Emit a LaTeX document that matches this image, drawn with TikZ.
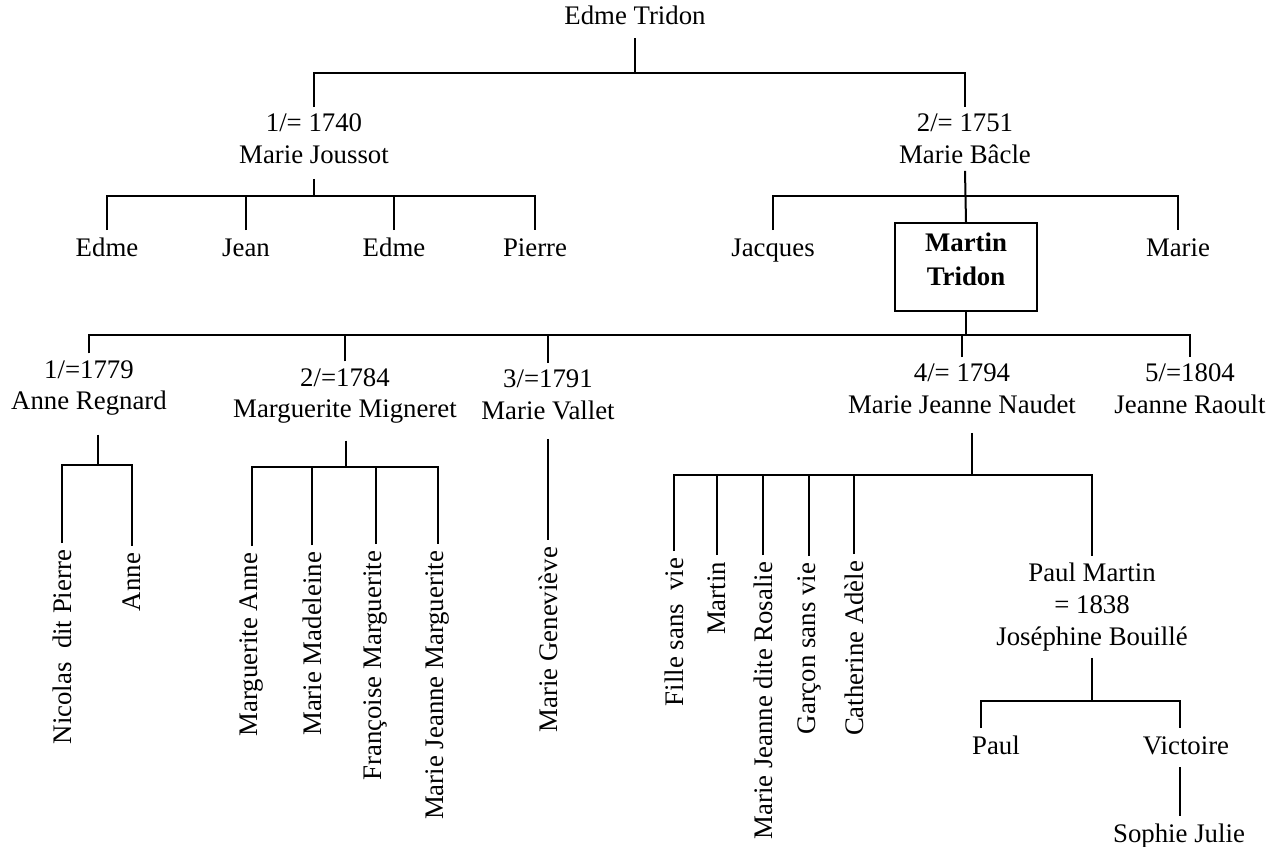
\documentclass[tikz,border=0pt]{standalone}
\usepackage{fontspec}
\setmainfont{Liberation Serif}
\usepackage{xcolor}
\usepackage{tikz}
\begin{document}
\begin{tikzpicture}[x=0.5pt,y=-0.5pt,line width=1pt]
\tikzstyle{every node}+=[inner sep=3pt,font=\fontsize{13.4}{15.8}\selectfont]
\tikzstyle{person}=[align=center]
\tikzstyle{single}=[text height=9.5pt,text depth=3pt]
\tikzstyle{kid}=[rotate=90,anchor=east]
\tikzstyle{tridonbox}=[draw,align=center,font=\fontsize{13.4}{17}\selectfont\bfseries,minimum width=71pt,inner xsep=0pt,inner ysep=5pt,text depth=7.5pt]
\useasboundingbox (0,0) rectangle (1279,846);
\node [single] (edme) at (635,18.5) {Edme Tridon};
\node [person] (first) at (314,139) {1/= 1740\\Marie Joussot};
\node [person] (second) at (965,139) {2/= 1751\\Marie Bâcle};
\node [single] (edme1) at (107,249.5) {Edme};
\node [single] (jean) at (246,249.5) {Jean};
\node [single] (edme2) at (394,249.5) {Edme};
\node [single] (pierre) at (535,249.5) {Pierre};
\node [single] (jacques) at (773,249.5) {Jacques};
\node [tridonbox] (martin) at (966,267) {Martin\\Tridon};
\node [single] (marie) at (1178,249.5) {Marie};
\node [person] (w1) at (89,388) {1/=1779\\Anne Regnard};
\node [person] (w2) at (345,396) {2/=1784\\Marguerite Migneret};
\node [person] (w3) at (548,395) {3/=1791\\Marie Vallet};
\node [person] (w4) at (962,389) {4/= 1794\\Marie Jeanne Naudet};
\node [person] (w5) at (1190,389) {5/=1804\\Jeanne Raoult};
\node [kid] (nicolas) at (62,543) {Nicolas\ \ dit Pierre};
\node [kid] (anne) at (132,546) {Anne};
\node [kid] (mganne) at (252,546) {Marguerite Anne};
\node [kid] (madeleine) at (312,545) {Marie Madeleine};
\node [kid] (francoise) at (376,544) {Françoise Marguerite};
\node [kid] (mjmarg) at (438,544) {Marie Jeanne Marguerite};
\node [kid] (genevieve) at (548,540) {Marie Geneviève};
\node [kid] (fille) at (674,551) {Fille sans\ \ vie};
\node [kid] (martin2) at (717,555) {Martin};
\node [kid] (rosalie) at (763,555) {Marie Jeanne dite Rosalie};
\node [kid] (garcon) at (809,556) {Garçon sans vie};
\node [kid] (adele) at (854,554) {Catherine Adèle};
\node [person] (paulmartin) at (1092,607) {Paul Martin\\= 1838\\Joséphine Bouillé};
\node [single] (paul) at (996,747.5) {Paul};
\node [single] (victoire) at (1186,747.5) {Victoire};
\node [single] (sophie) at (1179,835.5) {Sophie Julie};
\coordinate (top) at (635,73);
\coordinate (bar1) at (314,196);
\coordinate (bar2) at (965,196);
\coordinate (bar3) at (966,335);
\coordinate (bar4) at (98,465);
\coordinate (bar5) at (346,467);
\coordinate (bar6) at (972,475);
\coordinate (bar7) at (1092,701);
\coordinate (paulx) at (981,701);
\coordinate (victx) at (1180,701);
\draw [black] (edme) -- (top);
\draw [black] (first.north) |- (top) -| (second.north);
\draw [black,shorten <=4pt] (first.south) -- (bar1);
\draw [black] (edme1.north) |- (bar1) -| (pierre.north);
\draw [black] (jean.north) -- (jean.north |- bar1);
\draw [black] (edme2.north) -- (edme2.north |- bar1);
\draw [black] (second.south) -- (martin.north);
\draw [black] (jacques.north) |- (bar2) -| (marie.north);
\draw [black] (martin.south) -- (bar3);
\draw [black] (w1.north) |- (bar3) -| (w5.north);
\foreach \w in {w2,w3,w4} \draw [black] (\w.north) -- (\w.north |- bar3);
\draw [black,shorten <=6pt] (w1.south -| bar4) -- (bar4);
\draw [black] (nicolas.east) |- (bar4) -| (anne.east);
\draw [black,shorten <=5pt] (w2.south -| bar5) -- (bar5);
\draw [black] (mganne.east) |- (bar5) -| (mjmarg.east);
\foreach \k in {madeleine,francoise} \draw [black] (\k.east) -- (\k.east |- bar5);
\draw [black,shorten <=6pt] (w3.south) -- (genevieve.east);
\draw [black,shorten <=6pt] (w4.south -| bar6) -- (bar6);
\draw [black] (fille.east) |- (bar6) -| (paulmartin.north);
\foreach \k in {martin2,rosalie,garcon,adele} \draw [black] (\k.east) -- (\k.east |- bar6);
\draw [black] (paulmartin.south) -- (bar7);
\draw [black] (paulx |- paul.north) -- (paulx) -- (victx) -- (victx |- victoire.north);
\draw [black] (victoire.south -| victx) -- (sophie.north -| victx);
\end{tikzpicture}
\end{document}
